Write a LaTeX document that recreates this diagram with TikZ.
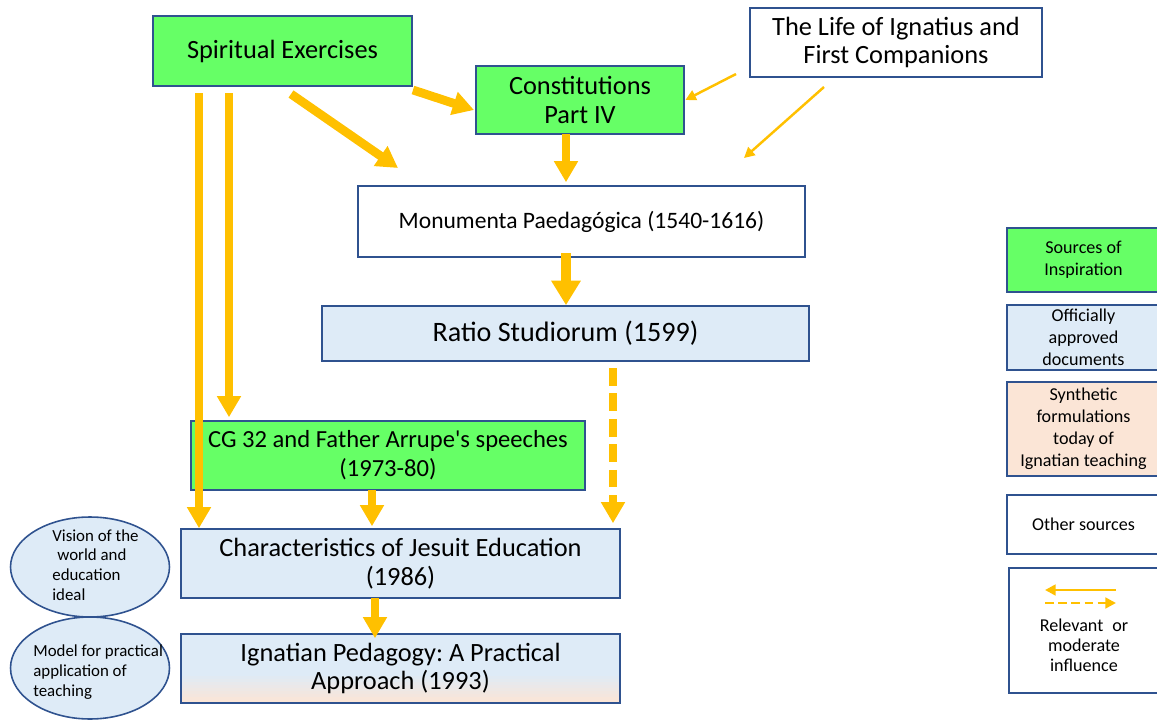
\documentclass[tikz,border=0pt]{standalone}
\usepackage{fontspec}
\setmainfont{Carlito}[Ligatures=TeXOff]
\usetikzlibrary{positioning,arrows.meta,shapes.geometric}
\frenchspacing

\definecolor{srcgreen}{RGB}{102,255,102}
\definecolor{docblue}{RGB}{222,235,247}
\definecolor{synpeach}{RGB}{251,229,214}
\definecolor{boxline}{RGB}{47,82,143}
\definecolor{inflow}{RGB}{255,192,0}

\begin{document}
\begin{tikzpicture}[
        x=0.02cm,
        y=-0.02cm,
        box/.style={
            rectangle,
            draw=boxline,
            line width=0.9pt,
            inner sep=0pt,
            align=center,
            font=\fontsize{15}{16.4}\selectfont
        },
        source/.style={
            box,
            fill=srcgreen
        },
        mainsource/.style={
            source,
            line width=1.6pt
        },
        official/.style={
            box,
            fill=docblue
        },
        other/.style={
            box,
            fill=white
        },
        keybox/.style={
            box,
            minimum width=3.06cm,
            font=\fontsize{10.3}{12.5}\selectfont
        },
        aim/.style={
            ellipse,
            draw=boxline,
            line width=0.9pt,
            fill=docblue,
            inner sep=0pt,
            minimum width=3.18cm
        },
        aimtext/.style={
            anchor=west,
            align=left,
            inner sep=0pt,
            font=\fontsize{9.6}{11.3}\selectfont
        },
        strong/.style={
            draw=inflow,
            line width=4.5pt,
            -{Triangle[width=13pt,length=12pt]}
        },
        weak/.style={
            draw=inflow,
            line width=1.4pt,
            -{Triangle[width=6pt,length=6pt]}
        },
        fading/.style={
            path picture={
                \foreach \k [evaluate=\k as \ya using 0.6-0.06*\k,
                             evaluate=\k as \yb using 0.54-0.06*\k,
                             evaluate=\k as \pct using 11*\k] in {0,...,9}
                    \fill[synpeach!\pct!docblue]
                        ([yshift=\ya cm]path picture bounding box.south west)
                        rectangle ([yshift=\yb cm]path picture bounding box.south east);
            }
        }
    ]

    \useasboundingbox (0,0) rectangle (1157,720);

    % Sources of inspiration
    \node[mainsource, minimum width=5.18cm, minimum height=1.40cm] (spex) at (282.5,51) {Spiritual Exercises};
    \node[mainsource, minimum width=4.16cm, minimum height=1.36cm] (const) at (580,100) {Constitutions\\Part IV};
    \node[source, minimum width=7.88cm, minimum height=1.38cm, font=\fontsize{14}{16.4}\selectfont] (cg) at (388,455.5) {CG 32 and Father Arrupe's speeches\\(1973-80)};

    % Other sources
    \node[other, minimum width=5.84cm, minimum height=1.38cm] (life) at (896,42.5) {The Life of Ignatius and\\First Companions};
    \node[other, minimum width=8.94cm, minimum height=1.42cm, font=\fontsize{13.4}{16}\selectfont] (mon) at (581.5,221.5) {Monumenta Paedag\'ogica (1540-1616)};

    % Officially approved documents
    \node[official, minimum width=9.74cm, minimum height=1.10cm, font=\fontsize{16}{18}\selectfont] (ratio) at (565.5,333.5) {Ratio Studiorum (1599)};
    \node[official, minimum width=8.78cm, minimum height=1.38cm] (cje) at (400.5,563.5) {Characteristics of Jesuit Education\\(1986)};
    \node[official, fading, minimum width=8.78cm, minimum height=1.38cm] (ip) at (400.5,668.5) {Ignatian Pedagogy: A Practical\\Approach (1993)};

    % Ovals on the left
    \node[aim, minimum height=2.00cm] (vision) at (90,567) {};
    \node[aim, minimum height=2.04cm] (model) at (90,668) {};
    \node[aimtext] (visiontxt) at (52,565) {Vision of the\\\hspace{0.3em}world and\\education\\ideal};
    \node[aimtext] (modeltxt) at (33,672) {Model for practical\\application of\\teaching};

    % Influence arrows
    \coordinate (sp1) at (199,93);
    \coordinate (sp2) at (229,93);
    \coordinate (sp3) at (291,94);
    \coordinate (mp) at (398,168);
    \coordinate (sp4) at (413,90);
    \coordinate (cp) at (474,110);
    \coordinate (cs) at (566,134);
    \coordinate (ms) at (566,253);
    \coordinate (rd) at (613,368);
    \coordinate (cgs) at (372,490);
    \coordinate (cjs) at (375,598);
    \coordinate (lf1) at (736,74);
    \coordinate (lf2) at (824,87);
    \coordinate (lp) at (744,158);

    \draw[strong] (sp1) -- (sp1 |- cje.north);
    \draw[strong] (sp2) -- ([yshift=0.06cm]sp2 |- cg.north);
    \draw[strong, line width=5pt] (sp3) -- (mp);
    \draw[strong, line width=5pt] (sp4) -- (cp);
    \draw[strong] (cs) -- ([yshift=0.06cm]cs |- mon.north);
    \draw[strong, line width=5.8pt, -{Triangle[width=16pt,length=14pt]}] (ms) -- (ms |- ratio.north);
    \draw[strong, line width=4pt, dash pattern=on 10pt off 4.5pt] (rd) -- ([yshift=0.1cm]rd |- cje.north);
    \draw[strong] (cgs) -- ([yshift=0.04cm]cgs |- cje.north);
    \draw[strong] (cjs) -- ([yshift=-0.1cm]cjs |- ip.north);

    \draw[weak] (lf1) -- (const.east);
    \draw[weak] (lf2) -- (lp);

    % Legend
    \node[keybox, fill=srcgreen, minimum height=1.28cm] (ksrc) at (1083.5,260) {Sources of\\Inspiration};
    \node[keybox, fill=docblue, minimum height=1.30cm] (kdoc) at (1083.5,337.5) {Officially\\approved\\documents};
    \node[keybox, fill=synpeach, minimum height=1.88cm] (ksyn) at (1083.5,429) {Synthetic\\formulations\\today of\\Ignatian teaching};
    \node[keybox, fill=white, minimum height=1.18cm] (koth) at (1083.5,524.5) {Other sources};
    \node[keybox, fill=white, minimum width=3.02cm, minimum height=2.50cm] (kinf) at (1084.5,630.5) {};
    \node[font=\fontsize{10.3}{11.3}\selectfont, align=center, inner sep=0pt] (kinftxt) at (1084,645) {Relevant\enspace or\\moderate\\influence};

    \coordinate (ka) at (1116,590);
    \coordinate (kb) at (1045,590);
    \coordinate (kc) at (1045,603);
    \coordinate (kd) at (1116,603);
    \draw[weak, line width=1.7pt] (ka) -- (kb);
    \draw[weak, line width=1.7pt, dash pattern=on 5pt off 2.5pt] (kc) -- (kd);

    \end{tikzpicture}
\end{document}
